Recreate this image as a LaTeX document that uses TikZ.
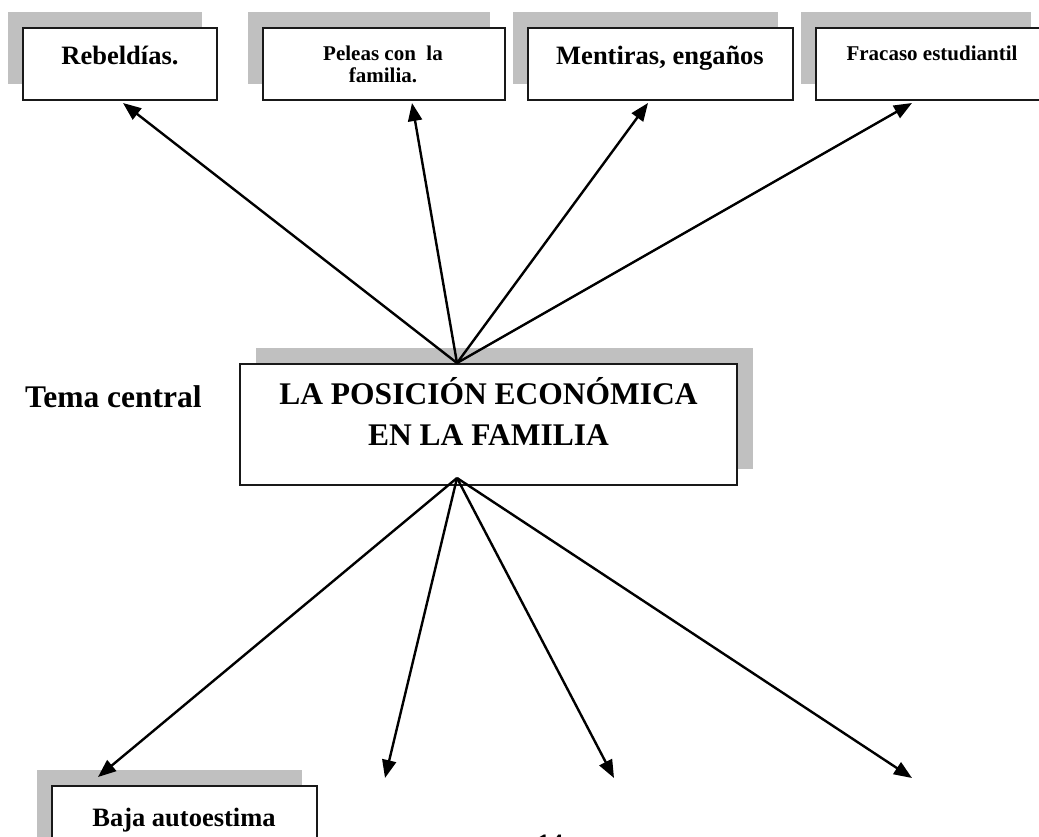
\documentclass[tikz,border=0pt]{standalone}
\usepackage{fontspec}
\setmainfont{Liberation Serif}
\usetikzlibrary{arrows.meta,shadows}
\definecolor{shadowgray}{HTML}{C0C0C0}
\begin{document}
\begin{tikzpicture}[x=1pt,y=-1pt]
\tikzstyle{box}=[draw=black!90,line width=2pt,fill=white,rectangle,inner sep=0pt,minimum height=72pt]
\tikzstyle{shadowleft}=[drop shadow={shadow xshift=-15pt,shadow yshift=16pt,fill=shadowgray,opacity=1}]
\tikzstyle{shadowright}=[drop shadow={shadow xshift=16pt,shadow yshift=16pt,fill=shadowgray,opacity=1}]
\tikzstyle{label}=[inner sep=0pt,anchor=base,font=\bfseries\fontsize{26.5}{32}\selectfont]
\tikzstyle{small}=[inner sep=0pt,anchor=base,align=center,font=\bfseries\fontsize{21}{22}\selectfont]
\tikzstyle{big}=[inner sep=0pt,anchor=base,align=center,font=\bfseries\fontsize{31.5}{41}\selectfont]
\tikzstyle{arr}=[draw,line width=2.4pt,-{Triangle[length=18pt,width=14pt]}]
\useasboundingbox (0,0) rectangle (1039,837);
\clip (0,0) rectangle (1039,837);
% efectos
\node[box,shadowleft,minimum width=194pt] (rebeldias) at (120,64) {};
\node[box,shadowleft,minimum width=242pt] (peleas) at (384,64) {};
\node[box,shadowleft,minimum width=265pt] (mentiras) at (660.5,64) {};
\node[box,shadowleft,minimum width=230pt] (fracaso) at (931,64) {};
\node[label] (trebeldias) at (120,65) {Rebeldías.};
\node[small] (tpeleas) at (383,83) {Peleas con\ \ la\\familia.};
\node[label] (tmentiras) at (660,65) {Mentiras, engaños};
\node[small] (tfracaso) at (932,61) {Fracaso estudiantil};
% tema central
\node[box,shadowright,minimum width=497pt,minimum height=121pt] (posicion) at (488.5,424.5) {};
\node[big] (tposicion) at (488.5,445) {LA POSICIÓN ECONÓMICA\\EN LA FAMILIA};
\node[big,anchor=base west] (tema) at (25,407) {Tema central};
% causas
\node[box,shadowleft,minimum width=265pt] (baja) at (184.5,822) {};
\node[label] (tbaja) at (184,826) {Baja autoestima};
\node[label] (pagina) at (550,852) {14};
\coordinate (arriba) at ([xshift=-31.5pt]posicion.north);
\coordinate (abajo) at ([xshift=-31.5pt,yshift=8pt]posicion.south);
\coordinate (c2) at (385,778);
\coordinate (c3) at (614,778);
\coordinate (c4) at (912,778);
\path[arr] (arriba) -- ([xshift=3pt,yshift=-2pt]rebeldias.south);
\path[arr] (arriba) -- ([xshift=28pt,yshift=-2pt]peleas.south);
\path[arr] (arriba) -- ([xshift=-12.5pt,yshift=-2pt]mentiras.south);
\path[arr] (arriba) -- ([xshift=-19pt,yshift=-2pt]fracaso.south);
\path[arr] (abajo) -- ([xshift=-86.5pt,yshift=8pt]baja.north);
\path[arr] (abajo) -- (c2);
\path[arr] (abajo) -- (c3);
\path[arr] (abajo) -- (c4);
\end{tikzpicture}
\end{document}
